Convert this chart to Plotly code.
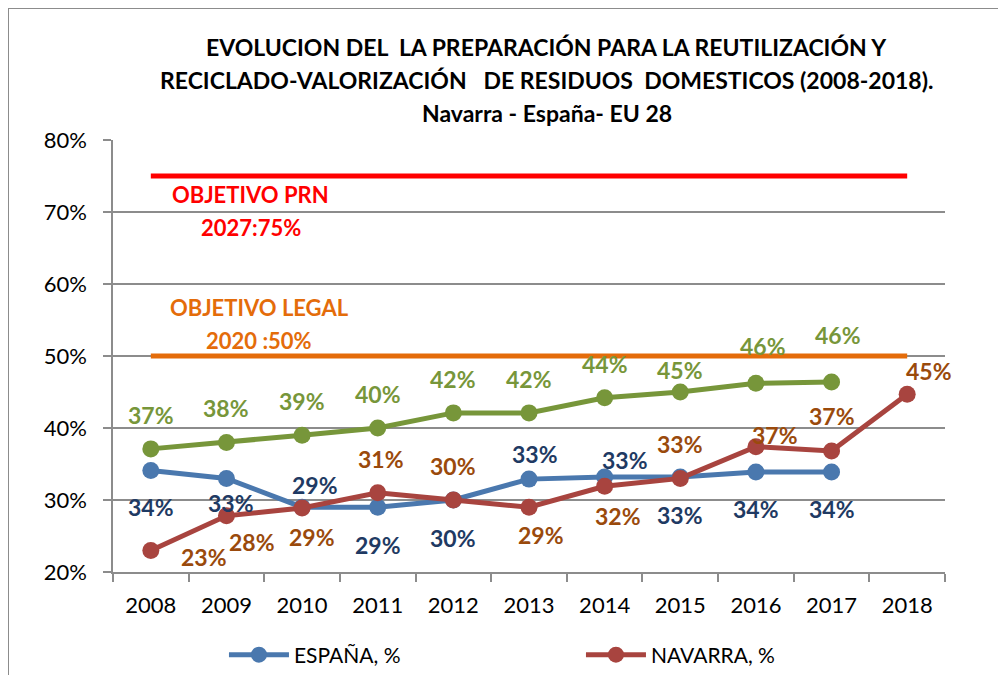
import plotly.graph_objects as go

years = ["2008", "2009", "2010", "2011", "2012", "2013", "2014", "2015", "2016", "2017", "2018"]
espana = [34.1, 33.0, 29.0, 29.0, 30.0, 32.9, 33.2, 33.2, 33.9, 33.9]
navarra = [23.0, 27.8, 28.9, 31.0, 30.0, 29.0, 31.9, 33.0, 37.4, 36.8, 44.7]
eu28 = [37.1, 38.0, 39.0, 40.0, 42.1, 42.1, 44.2, 45.0, 46.2, 46.4]
obj_prn = [75, 75]
obj_legal = [50, 50]
y_ticks = [20, 30, 40, 50, 60, 70, 80]

# label offsets (style): (dx, dy) in px, dy positive = down
esp_off = [(0, 37), (5, 25), (13, -22), (0, 38), (0, 38), (6, -25), (20, -17), (0, 38), (0, 37), (0, 37)]
nav_off = [(53, 7), (26, 26), (10, 29), (3, -34), (0, -34), (12, 28), (13, 30), (0, -34), (19, -12), (0, -35), (22, -23)]
eu_off = [(0, -34)] * 7 + [(0, -22), (7, -37), (6, -47)]

C_ESP = "#4A78AE"
C_NAV = "#A8443F"
C_EU = "#77963A"
L_ESP = "#1F3A63"
L_NAV = "#9A4A0C"
L_EU = "#77963A"
FONT = "Lato"

fig = go.Figure()

fig.add_trace(go.Scatter(x=[years[0], years[-1]], y=obj_prn, mode="lines",
                         line=dict(color="#FF0000", width=5), showlegend=False, hoverinfo="skip"))
fig.add_trace(go.Scatter(x=[years[0], years[-1]], y=obj_legal, mode="lines",
                         line=dict(color="#E46C0A", width=5), showlegend=False, hoverinfo="skip"))
fig.add_trace(go.Scatter(x=years[:len(eu28)], y=eu28, mode="lines+markers", name="EU 28, %",
                         line=dict(color=C_EU, width=5), marker=dict(size=17, color=C_EU),
                         showlegend=False))
fig.add_trace(go.Scatter(x=years[:len(espana)], y=espana, mode="lines+markers", name="ESPAÑA, %",
                         line=dict(color=C_ESP, width=5), marker=dict(size=17, color=C_ESP)))
fig.add_trace(go.Scatter(x=years, y=navarra, mode="lines+markers", name="NAVARRA, %",
                         line=dict(color=C_NAV, width=5), marker=dict(size=17, color=C_NAV)))

anns = []
for vals, offs, col in [(eu28, eu_off, L_EU), (espana, esp_off, L_ESP), (navarra, nav_off, L_NAV)]:
    for i, v in enumerate(vals):
        dx, dy = offs[i]
        anns.append(dict(x=i, y=v, xref="x", yref="y", text=f"{round(v)}%",
                         showarrow=False, xshift=dx, yshift=-dy, xanchor="center", yanchor="middle",
                         font=dict(family=FONT, size=23, color=col, weight="bold")))

# objective texts
for txt, yv, xp, col in [("OBJETIVO PRN", 72.5, 0.1647, "#FF0000"), ("2027:75%", 67.9, 0.1659, "#FF0000"),
                         ("OBJETIVO LEGAL", 56.7, 0.1755, "#E46C0A"), ("2020 :50%", 52.2, 0.1755, "#E46C0A")]:
    anns.append(dict(x=xp, y=yv, xref="paper", yref="y", text=txt.replace(" :", "&nbsp;:"), showarrow=False,
                     xanchor="center", yanchor="middle",
                     font=dict(family=FONT, size=22, color=col, weight="bold")))

# title lines
for txt, yp in [("EVOLUCION DEL  LA PREPARACIÓN PARA LA REUTILIZACIÓN Y", 1.2153),
                ("RECICLADO-VALORIZACIÓN   DE RESIDUOS  DOMESTICOS (2008-2018).", 1.1389),
                ("Navarra - España- EU 28", 1.0625)]:
    anns.append(dict(x=0.5216, y=yp, xref="paper", yref="paper", text=txt.replace("  ", "&nbsp; "),
                     showarrow=False, xanchor="center", yanchor="middle",
                     font=dict(family=FONT, size=23, color="#000000", weight="bold")))

fig.update_layout(
    width=998, height=667,
    margin=dict(l=105, r=61, t=132, b=103),
    paper_bgcolor="white", plot_bgcolor="white",
    font=dict(family=FONT, size=22, color="#000000"),
    annotations=anns,
    showlegend=True,
    legend=dict(orientation="h", xref="container", yref="container",
                x=0.2164, xanchor="left", y=0.030, yanchor="middle",
                font=dict(family=FONT, size=21, color="#000000"),
                entrywidth=282, entrywidthmode="pixels", itemwidth=60),
    shapes=[
        dict(type="line", xref="paper", yref="paper", x0=-0.1262, x1=1.2, y0=1.3056, y1=1.3056,
             line=dict(color="#8C8C8C", width=2)),
        dict(type="line", xref="paper", yref="paper", x0=-0.1262, x1=-0.1262, y0=-0.3, y1=1.3056,
             line=dict(color="#8C8C8C", width=2)),
    ],
)
fig.update_xaxes(type="category", categoryorder="array", categoryarray=years,
                 range=[-0.5, len(years) - 0.5],
                 tickson="boundaries", ticks="outside", ticklen=8, tickcolor="#8C8C8C", tickwidth=1.5,
                 showline=True, linecolor="#8C8C8C", linewidth=1.5, showgrid=False,
                 tickfont=dict(family=FONT, size=22), ticklabelstandoff=13)
fig.update_yaxes(range=[20, 80], tickvals=y_ticks, ticktext=[f"{t}%" for t in y_ticks],
                 ticks="outside", ticklen=8, tickcolor="#8C8C8C", tickwidth=1.5,
                 showline=True, linecolor="#8C8C8C", linewidth=1.5,
                 showgrid=True, gridcolor="#8C8C8C", gridwidth=1.5, zeroline=False,
                 tickfont=dict(family=FONT, size=22), ticklabelstandoff=12)

fig.write_html("out.html")
